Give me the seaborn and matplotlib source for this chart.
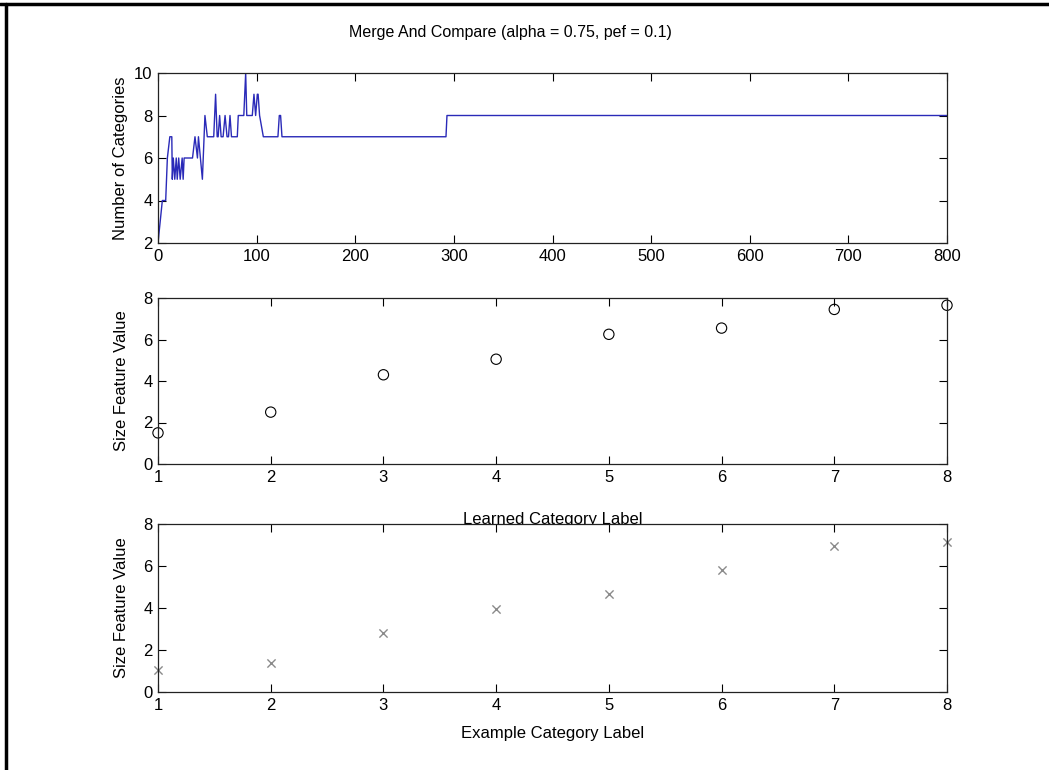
import matplotlib
matplotlib.use("Agg")
import matplotlib.pyplot as plt
import seaborn as sns
from matplotlib.lines import Line2D

# data
iter_x = [0, 4.4, 7.8, 9.5, 12, 14, 14.5, 15.5, 17, 18.5, 19.5, 21, 22.5, 24.5, 25.5, 26.5,
          35, 37.5, 40, 41, 43, 45, 47.6, 50, 56.5, 58.4, 60, 61, 62.5, 64, 66, 68, 70, 71.5,
          73, 74.5, 80.4, 81.4, 87, 88.9, 90, 95.6, 97.3, 99, 100.7, 101.5, 103, 106.8,
          121.6, 123, 124.3, 125.7, 292, 293, 800]
n_categories = [2, 4, 4, 6, 7, 7, 5, 6, 5, 6, 5, 6, 5, 6, 5, 6,
                6, 7, 6, 7, 6, 5, 8, 7, 7, 9, 7, 7, 8, 7, 7, 8, 7, 7,
                8, 7, 7, 8, 8, 10, 8, 8, 9, 8, 9, 9, 8, 7,
                7, 8, 8, 7, 7, 8, 8]

labels = [1, 2, 3, 4, 5, 6, 7, 8]
learned_size = [1.5, 2.5, 4.3, 5.05, 6.25, 6.55, 7.45, 7.65]
example_size = [1.05, 1.37, 2.82, 3.97, 4.65, 5.81, 6.96, 7.12]

sns.set_style("ticks")
plt.rcParams["font.family"] = ["Liberation Sans", "DejaVu Sans"]
plt.rcParams["text.color"] = "black"
plt.rcParams["axes.labelcolor"] = "black"
plt.rcParams["xtick.color"] = "black"
plt.rcParams["ytick.color"] = "black"

fig = plt.figure(figsize=(10.49, 7.7), dpi=100)
W, H = 1049, 770
left, right = 158 / W, 947 / W

def add_box(top, bottom):
    return fig.add_axes([left, 1 - bottom / H, right - left, (bottom - top) / H])

ax1 = add_box(73, 243)
ax2 = add_box(298, 464)
ax3 = add_box(524, 692)

# top panel: number of categories over time
sns.lineplot(x=iter_x, y=n_categories, ax=ax1, color="#2a2ab8", lw=1,
             estimator=None, sort=False)
ax1.set_xlim(0, 800)
ax1.set_ylim(2, 10)
ax1.set_xticks(range(0, 801, 100))
ax1.set_yticks([2, 4, 6, 8, 10])
ax1.set_ylabel("Number of Categories", fontsize=12, labelpad=4)

# middle panel: learned categories (its label is partly hidden by the bottom panel)
sns.scatterplot(x=labels, y=learned_size, ax=ax2, marker="o", s=55,
                facecolor="none", edgecolor="black", linewidth=0.8, clip_on=False)
ax2.set_xlabel("Learned Category Label", fontsize=12, labelpad=20)
ax2.set_ylabel("Size Feature Value", fontsize=12, labelpad=10)

# bottom panel: example categories
sns.scatterplot(x=labels, y=example_size, ax=ax3, marker="x", s=35,
                color="#8a8a8a", linewidth=1, clip_on=False)
ax3.set_xlabel("Example Category Label", fontsize=12, labelpad=10)
ax3.set_ylabel("Size Feature Value", fontsize=12, labelpad=10)

for ax in (ax2, ax3):
    ax.set_xlim(1, 8)
    ax.set_ylim(0, 8)
    ax.set_xticks(labels)
    ax.set_yticks([0, 2, 4, 6, 8])

for ax in (ax1, ax2, ax3):
    ax.tick_params(direction="in", top=True, right=True, length=6,
                   labelsize=12, width=0.8, pad=4)
    for sp in ax.spines.values():
        sp.set_visible(True)
        sp.set_linewidth(0.9)
        sp.set_color("#222222")

fig.text(510 / W, 1 - 33 / H, "Merge And Compare (alpha = 0.75, pef = 0.1)",
         ha="center", va="center", fontsize=11.5)

# black frame on top and left edges
fig.add_artist(Line2D([0, 1], [1 - 4 / H, 1 - 4 / H], color="black", lw=2.5,
                      transform=fig.transFigure))
fig.add_artist(Line2D([6 / W, 6 / W], [0, 1 - 4 / H], color="black", lw=2.5,
                      transform=fig.transFigure))

fig.savefig("out.png", dpi=100)
